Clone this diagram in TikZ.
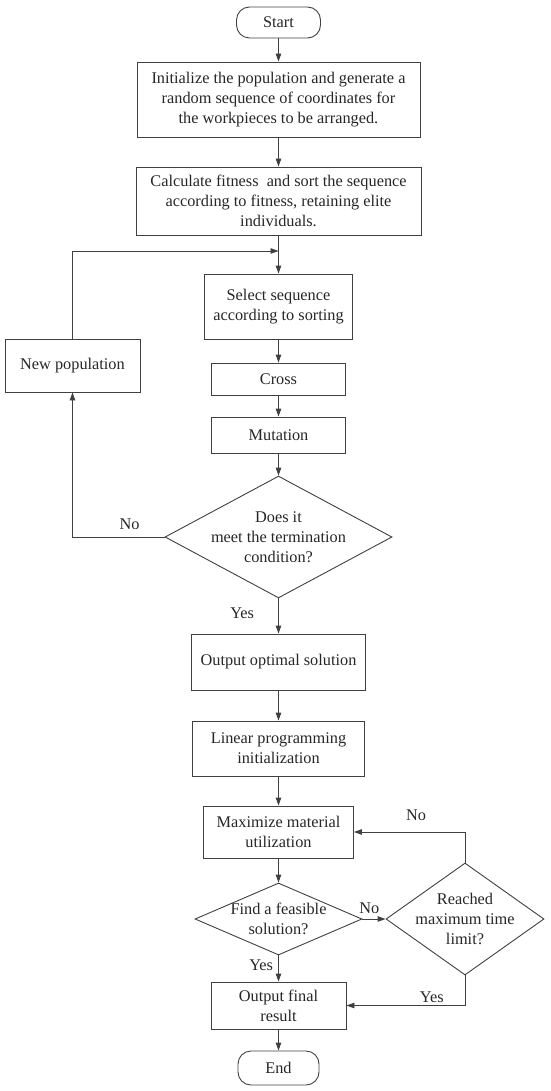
\documentclass[tikz,border=0pt]{standalone}
\usepackage{fontspec}
\setmainfont{Liberation Serif}
\usetikzlibrary{arrows.meta, shapes.geometric}

\begin{document}
\begin{tikzpicture}[x=1pt, y=-1pt,
    every node/.style={text=black!85, font=\fontsize{16.3}{20}\selectfont},
    box/.style={draw=black!75, line width=0.9pt, align=center, inner sep=0pt},
    terminal/.style={box, rounded corners=13pt},
    decision/.style={draw=black!75, line width=0.9pt, shape=diamond, align=center, inner sep=-16pt},
    flow/.style={draw=black!75, line width=0.9pt, -{Triangle[length=8pt, width=5.5pt]}},
    lbl/.style={inner sep=2pt}]
    \useasboundingbox (0,0) rectangle (550,1091);
    % genetic algorithm part
    \node[terminal, minimum width=84pt, minimum height=31pt] (start) at (278.5,22.5) {Start};
    \node[box, minimum width=283pt, minimum height=75pt] (init) at (278.5,99.5)
        {Initialize the population and generate a\\ random sequence of coordinates for\\ the workpieces to be arranged.};
    \node[box, minimum width=285pt, minimum height=68pt] (fit) at (278.5,201)
        {Calculate fitness\ \ and sort the sequence\\ according to fitness, retaining elite\\ individuals.};
    \node[box, minimum width=148pt, minimum height=65pt] (sel) at (278.5,306.5) {Select sequence\\ according to sorting};
    \node[box, minimum width=134pt, minimum height=32pt] (cross) at (278.5,379) {Cross};
    \node[box, minimum width=134pt, minimum height=36pt] (mut) at (278.5,435) {Mutation};
    \node[decision, minimum width=227pt, minimum height=120pt] (cond) at (278.5,537)
        {Does it\\ meet the termination\\ condition?};
    \node[box, minimum width=135pt, minimum height=53pt] (newpop) at (72.5,365.5) {New population};
    \coordinate (join) at (278.5,251);
    % linear programming part
    \node[box, minimum width=174pt, minimum height=56pt] (opt) at (278.5,662) {Output optimal solution};
    \node[box, minimum width=172pt, minimum height=55pt] (lp) at (278.5,748.5) {Linear programming\\ initialization};
    \node[box, minimum width=150pt, minimum height=52pt] (maxu) at (278.5,832) {Maximize material\\ utilization};
    \node[decision, minimum width=167pt, minimum height=72pt] (feas) at (278.5,919) {Find a feasible\\ solution?};
    \node[decision, minimum width=158pt, minimum height=112pt] (limit) at (465,919) {Reached\\ maximum time\\ limit?};
    \node[box, minimum width=135pt, minimum height=47pt] (final) at (278.5,1005.5) {Output final\\ result};
    \node[terminal, minimum width=81pt, minimum height=34pt] (stop) at (278.5,1068) {End};

    \draw[flow] (start) -- (init);
    \draw[flow] (init) -- (fit);
    \draw[flow] (fit) -- (sel);
    \draw[flow] (sel) -- (cross);
    \draw[flow] (cross) -- (mut);
    \draw[flow] (mut) -- (cond);
    \draw[flow] (cond.west) -| node[lbl, pos=0.19, above=5pt] {No} (newpop.south);
    \draw[flow] (newpop.north) |- (join);
    \draw[flow] (cond) -- node[lbl, pos=0.43, left=22pt] {Yes} (opt);
    \draw[flow] (opt) -- (lp);
    \draw[flow] (lp) -- (maxu);
    \draw[flow] (maxu) -- (feas);
    \draw[flow] (feas) -- node[lbl, pos=0.37, left=3pt] {Yes} (final);
    \draw[flow] (feas.east) -- node[lbl, pos=0.3, above=3pt] {No} (limit.west);
    \draw[flow] (limit.north) |- node[lbl, pos=0.72, above=9pt] {No} (maxu.east);
    \draw[flow] (limit.south) |- node[lbl, pos=0.64, above=0pt] {Yes} (final.east);
    \draw[flow] (final) -- (stop);
\end{tikzpicture}
\end{document}
